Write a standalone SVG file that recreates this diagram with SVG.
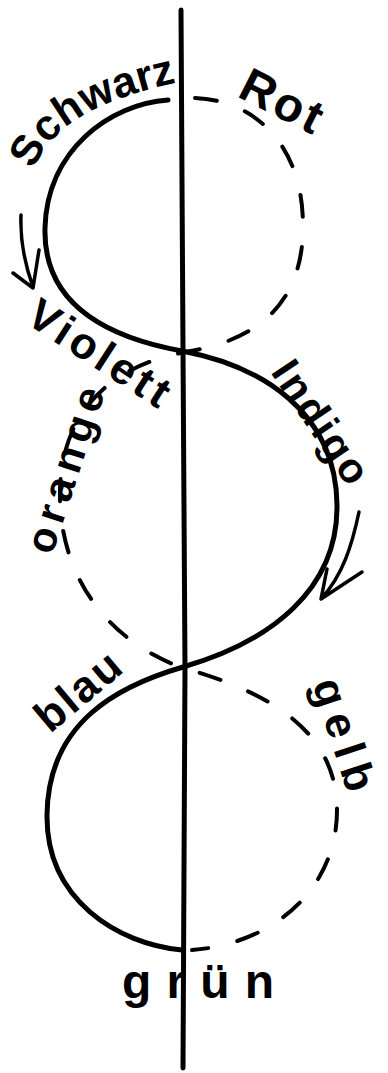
<svg xmlns="http://www.w3.org/2000/svg" width="388" height="1073" viewBox="0 0 388 1073">
<defs>
<style>
.ink{fill:none;stroke:#000;stroke-linecap:round;stroke-linejoin:round}
.axis{stroke-width:5}
.solid{stroke-width:5}
.dash{stroke-width:4;stroke-dasharray:22 30}
.arr{stroke-width:3.5}
.lbl{font-family:"Liberation Sans","DejaVu Sans",sans-serif;font-weight:bold;fill:#000}
</style>
<path id="pSchwarz" d="M34,170 Q55,108 180,82"/>
</defs>
<rect width="388" height="1073" fill="#fff"/>
<g id="axis">
<path class="ink axis" d="M181,10 L183,350 L185,668 L183,1068"/>
</g>
<g id="connectors">
<path id="solid-curve" class="ink solid" d="M168,100 C110,104 47,150 45,228 C43,300 100,336 182,351 C262,366 336,412 337,505 C338,590 270,642 183,667 C118,686 48,722 47,815 C46,900 118,944 182,950"/>
<path id="dashed-curve" class="ink dash" d="M195,98 C252,100 303,142 303,226 C303,300 262,340 185,352 C102,368 58,420 60,500 C62,580 110,642 183,668 C270,692 337,732 337,810 C337,890 272,944 192,950"/>
<path id="arrow-left" class="ink arr" d="M21,215 C20,240 24,262 33,287 M13,273 L33,288 L39,250"/>
<path id="arrow-right" class="ink arr" d="M359,512 C352,545 343,575 321,599 M327,569 L321,599 L362,572"/>
</g>
<g id="labels">
<text id="t-schwarz" class="lbl" font-size="43"><textPath href="#pSchwarz">Schwarz</textPath></text>
<text id="t-rot" class="lbl" font-size="48" transform="translate(236,96) rotate(27)" textLength="86" lengthAdjust="spacing">Rot</text>
<text id="t-violett" class="lbl" font-size="44" transform="translate(24,322) rotate(33)" textLength="160" lengthAdjust="spacing">Violett</text>
<text id="t-orange" class="lbl" font-size="42" transform="translate(52,556) rotate(-72)" textLength="172" lengthAdjust="spacing">orange</text>
<text id="t-indigo" class="lbl" font-size="42" transform="translate(270,372) rotate(56)" textLength="140" lengthAdjust="spacing">Indigo</text>
<text id="t-blau" class="lbl" font-size="44" transform="translate(50,734) rotate(-40)" textLength="98" lengthAdjust="spacing">blau</text>
<text id="t-gelb" class="lbl" font-size="44" transform="translate(312,684) rotate(72)" textLength="116" lengthAdjust="spacing">gelb</text>
<text id="t-gruen" class="lbl" font-size="48" x="122" y="998" textLength="152" lengthAdjust="spacing">grün</text>
</g>
</svg>
